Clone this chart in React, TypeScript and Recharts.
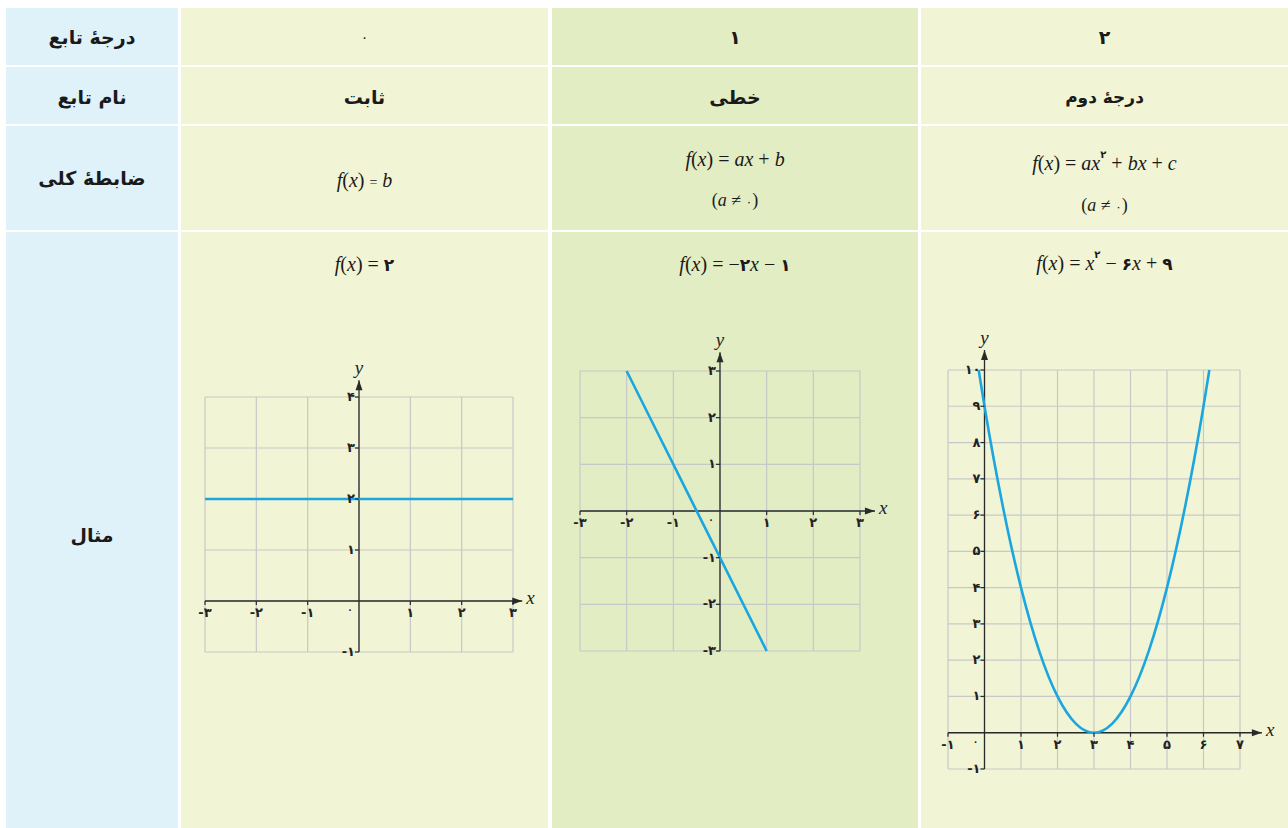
// @ts-nocheck
import React from 'react';
import {
  LineChart,
  Line,
  XAxis,
  YAxis,
  CartesianGrid,
  ReferenceLine,
  ReferenceDot,
} from 'recharts';

// table texts
const rowHeads = ['درجهٔ تابع', 'نام تابع', 'ضابطهٔ کلی', 'مثال'];
const degrees = ['۰', '۱', '۲'];
const names = ['ثابت', 'خطی', 'درجهٔ دوم'];

// f(x) = 2
const constX = [-3, 3];
const constY = [2, 2];
const constXTicks = [-3, -2, -1, 0, 1, 2, 3];
const constYTicks = [-1, 0, 1, 2, 3, 4];

// f(x) = -2x - 1
const linX = [-2, 1];
const linY = [3, -3];
const linXTicks = [-3, -2, -1, 0, 1, 2, 3];
const linYTicks = [-3, -2, -1, 0, 1, 2, 3];

// f(x) = x^2 - 6x + 9
const quadX = [-0.16, 0, 0.5, 1, 1.5, 2, 2.5, 3, 3.5, 4, 4.5, 5, 5.5, 6, 6.16];
const quadY = [10, 9, 6.25, 4, 2.25, 1, 0.25, 0, 0.25, 1, 2.25, 4, 6.25, 9, 10];
const quadXTicks = [-1, 0, 1, 2, 3, 4, 5, 6, 7];
const quadYTicks = [-1, 0, 1, 2, 3, 4, 5, 6, 7, 8, 9, 10];

const BLUE = '#1ba6e0';
const GRID = '#c8c8c8';
const AXIS = '#2a2a2a';
const FA_FONT = '"DejaVu Sans", sans-serif';
const MATH_FONT = '"Liberation Serif", serif';

const COLS = [
  { x: 6, w: 172, bg: '#dff2fa' },
  { x: 181, w: 367, bg: '#f1f5d5' },
  { x: 552, w: 366, bg: '#e3edc3' },
  { x: 921, w: 367, bg: '#f1f5d5' },
];
const ROWS = [
  { y: 8, h: 57 },
  { y: 67, h: 57 },
  { y: 126, h: 104 },
  { y: 232, h: 596 },
];

const fa = (n: number) =>
  (n < 0 ? '-' : '') + String(Math.abs(n)).replace(/\d/g, (d) => '۰۱۲۳۴۵۶۷۸۹'[+d]);

const xTickShape = (label: string) => (p: any) => (
  <g>
    <line x1={p.cx} y1={p.cy} x2={p.cx} y2={p.cy + 4} stroke={AXIS} strokeWidth={1.2} />
    <text x={p.cx} y={p.cy + 16} textAnchor="middle" fontSize={13} fontWeight={600} fontFamily={FA_FONT} fill="#222">
      {label}
    </text>
  </g>
);

const yTickShape = (label: string) => (p: any) => (
  <g>
    <line x1={p.cx - 4} y1={p.cy} x2={p.cx} y2={p.cy} stroke={AXIS} strokeWidth={1.2} />
    <text x={p.cx - 4} y={p.cy + 4} textAnchor="end" fontSize={13} fontWeight={600} fontFamily={FA_FONT} fill="#222">
      {label}
    </text>
  </g>
);

const originShape = (p: any) => (
  <text x={p.cx - 9} y={p.cy + 13} textAnchor="middle" fontSize={14} fontFamily={FA_FONT} fill="#222">
    {fa(0)}
  </text>
);

const arrowRight = (p: any) => (
  <g>
    <path d={`M${p.cx},${p.cy} L${p.cx - 10},${p.cy - 3.5} L${p.cx - 10},${p.cy + 3.5} Z`} fill={AXIS} />
    <text x={p.cx + 4} y={p.cy + 3} fontSize={19} fontStyle="italic" fontFamily={MATH_FONT} fill="#222">
      x
    </text>
  </g>
);

const arrowUp = (p: any) => (
  <g>
    <path d={`M${p.cx},${p.cy} L${p.cx - 3.5},${p.cy + 10} L${p.cx + 3.5},${p.cy + 10} Z`} fill={AXIS} />
    <text x={p.cx} y={p.cy - 6} textAnchor="middle" fontSize={19} fontStyle="italic" fontFamily={MATH_FONT} fill="#222">
      y
    </text>
  </g>
);

function Plot({ left, top, width, height, margin, xs, ys, xTicks, yTicks, xEnd, yEnd, smooth }) {
  const data = xs.map((x, i) => ({ x, y: ys[i] }));
  const xMin = xTicks[0];
  const xMax = xTicks[xTicks.length - 1];
  const yMin = yTicks[0];
  const yMax = yTicks[yTicks.length - 1];
  return (
    <div style={{ position: 'absolute', left, top }}>
      <LineChart width={width} height={height} data={data} margin={margin}>
        <XAxis type="number" dataKey="x" domain={[xMin, xMax]} ticks={xTicks} hide />
        <YAxis type="number" dataKey="y" domain={[yMin, yMax]} ticks={yTicks} hide />
        <CartesianGrid stroke={GRID} strokeWidth={1.2} />
        <ReferenceLine
          segment={[{ x: xMin, y: 0 }, { x: xEnd, y: 0 }]}
          stroke={AXIS}
          strokeWidth={1.3}
          ifOverflow="visible"
        />
        <ReferenceLine
          segment={[{ x: 0, y: yMin }, { x: 0, y: yEnd }]}
          stroke={AXIS}
          strokeWidth={1.3}
          ifOverflow="visible"
        />
        <ReferenceDot x={xEnd} y={0} r={3} ifOverflow="visible" shape={arrowRight} />
        <ReferenceDot x={0} y={yEnd} r={3} ifOverflow="visible" shape={arrowUp} />
        {xTicks
          .filter((v) => v !== 0)
          .map((v) => (
            <ReferenceDot key={'x' + v} x={v} y={0} r={3} ifOverflow="visible" shape={xTickShape(fa(v))} />
          ))}
        {yTicks
          .filter((v) => v !== 0)
          .map((v) => (
            <ReferenceDot key={'y' + v} x={0} y={v} r={3} ifOverflow="visible" shape={yTickShape(fa(v))} />
          ))}
        <ReferenceDot x={0} y={0} r={3} ifOverflow="visible" shape={originShape} />
        <Line
          dataKey="y"
          type={smooth ? 'monotone' : 'linear'}
          stroke={BLUE}
          strokeWidth={2.6}
          dot={false}
          isAnimationActive={false}
        />
      </LineChart>
    </div>
  );
}

function Cell({ col, y, children, style }) {
  const c = COLS[col];
  return (
    <div
      style={{
        position: 'absolute',
        left: c.x,
        width: c.w,
        top: y - 15,
        height: 30,
        lineHeight: '30px',
        textAlign: 'center',
        ...style,
      }}
    >
      {children}
    </div>
  );
}

const head = { fontFamily: FA_FONT, fontWeight: 700, fontSize: 19, direction: 'rtl', color: '#1a1a1a' };
const math = { fontFamily: MATH_FONT, fontSize: 20, direction: 'ltr', color: '#1a1a1a' };
const faBold = { fontFamily: FA_FONT, fontWeight: 700, fontSize: 17 };
const sup = { fontFamily: FA_FONT, fontWeight: 700, fontSize: 10, verticalAlign: 'top', position: 'relative', top: -8 };

export default function App() {
  return (
    <div style={{ position: 'absolute', left: 0, top: 0, width: 1288, height: 828, background: '#fff', overflow: 'hidden' }}>
      {ROWS.map((r, ri) =>
        COLS.map((c, ci) => (
          <div
            key={ri + '-' + ci}
            style={{ position: 'absolute', left: c.x, top: r.y, width: c.w, height: r.h, background: c.bg }}
          />
        ))
      )}

      {/* row heads */}
      <Cell col={0} y={37} style={head}>{rowHeads[0]}</Cell>
      <Cell col={0} y={97} style={head}>{rowHeads[1]}</Cell>
      <Cell col={0} y={178} style={head}>{rowHeads[2]}</Cell>
      <Cell col={0} y={535} style={head}>{rowHeads[3]}</Cell>

      {/* degrees */}
      <Cell col={1} y={37} style={{ ...head, fontWeight: 400, fontSize: 14 }}>{degrees[0]}</Cell>
      <Cell col={2} y={37} style={head}>{degrees[1]}</Cell>
      <Cell col={3} y={37} style={head}>{degrees[2]}</Cell>

      {/* names */}
      <Cell col={1} y={97} style={head}>{names[0]}</Cell>
      <Cell col={2} y={97} style={head}>{names[1]}</Cell>
      <Cell col={3} y={97} style={{ ...head, fontSize: 17 }}>{names[2]}</Cell>

      {/* general formulas */}
      <Cell col={1} y={180} style={math}>
        <i>f</i>(<i>x</i>) <span style={{ fontSize: 14 }}>=</span> <i>b</i>
      </Cell>
      <Cell col={2} y={159} style={math}>
        <i>f</i>(<i>x</i>) = <i>ax</i> + <i>b</i>
      </Cell>
      <Cell col={2} y={200} style={{ ...math, fontSize: 18 }}>
        (<i>a</i> ≠ <span style={{ fontFamily: FA_FONT, fontSize: 12 }}>{fa(0)}</span>)
      </Cell>
      <Cell col={3} y={163} style={math}>
        <i>f</i>(<i>x</i>) = <i>ax</i>
        <span style={sup}>{fa(2)}</span> + <i>bx</i> + <i>c</i>
      </Cell>
      <Cell col={3} y={205} style={{ ...math, fontSize: 18 }}>
        (<i>a</i> ≠ <span style={{ fontFamily: FA_FONT, fontSize: 12 }}>{fa(0)}</span>)
      </Cell>

      {/* example formulas */}
      <Cell col={1} y={264} style={math}>
        <i>f</i>(<i>x</i>) = <span style={faBold}>{fa(2)}</span>
      </Cell>
      <Cell col={2} y={264} style={math}>
        <i>f</i>(<i>x</i>) = −<span style={faBold}>{fa(2)}</span>
        <i>x</i> − <span style={faBold}>{fa(1)}</span>
      </Cell>
      <Cell col={3} y={263} style={math}>
        <i>f</i>(<i>x</i>) = <i>x</i>
        <span style={sup}>{fa(2)}</span> − <span style={faBold}>{fa(6)}</span>
        <i>x</i> + <span style={faBold}>{fa(9)}</span>
      </Cell>

      <Plot
        left={165}
        top={350}
        width={390}
        height={330}
        margin={{ top: 47, right: 42, bottom: 28, left: 40 }}
        xs={constX}
        ys={constY}
        xTicks={constXTicks}
        yTicks={constYTicks}
        xEnd={3.18}
        yEnd={4.33}
        smooth={false}
      />
      <Plot
        left={555}
        top={325}
        width={360}
        height={345}
        margin={{ top: 46, right: 55, bottom: 19, left: 25 }}
        xs={linX}
        ys={linY}
        xTicks={linXTicks}
        yTicks={linYTicks}
        xEnd={3.32}
        yEnd={3.4}
        smooth={false}
      />
      <Plot
        left={925}
        top={315}
        width={360}
        height={475}
        margin={{ top: 55, right: 45, bottom: 21, left: 23 }}
        xs={quadX}
        ys={quadY}
        xTicks={quadXTicks}
        yTicks={quadYTicks}
        xEnd={7.6}
        yEnd={10.55}
        smooth={true}
      />
    </div>
  );
}
